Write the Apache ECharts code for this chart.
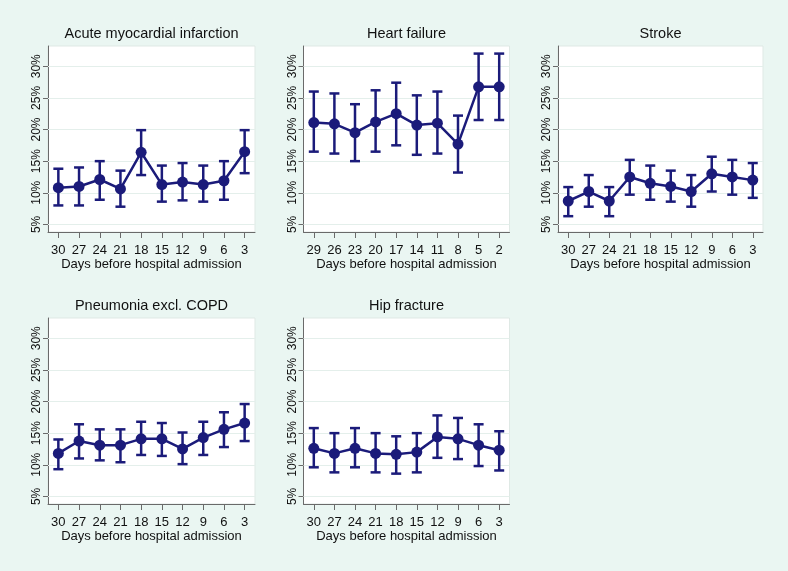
<!DOCTYPE html>
<html>
<head>
<meta charset="utf-8">
<script src="https://cdn.jsdelivr.net/npm/echarts@6/dist/echarts.min.js"></script>
<style>
html,body{margin:0;padding:0;background:#eaf6f2;}
#chart{width:788px;height:571px;}
</style>
</head>
<body>
<div id="chart"></div>
<script>
// ---- data ----
const daysA = ['30','27','24','21','18','15','12','9','6','3'];
const daysHF = ['29','26','23','20','17','14','11','8','5','2'];
const yTicks = [5, 10, 15, 20, 25, 30];

const amiEst  = [10.8, 11.0, 12.1, 10.6, 16.4, 11.3, 11.7, 11.3, 11.9, 16.5];
const amiLow  = [8.0, 8.0, 8.9, 7.8, 12.8, 8.6, 8.8, 8.6, 8.9, 13.1];
const amiHigh = [13.8, 14.0, 15.0, 13.5, 19.9, 14.3, 14.7, 14.3, 15.0, 19.9];

const hfEst  = [21.1, 20.9, 19.5, 21.2, 22.5, 20.7, 21.0, 17.7, 26.75, 26.75];
const hfLow  = [16.5, 16.2, 15.0, 16.5, 17.5, 16.0, 16.2, 13.2, 21.5, 21.5];
const hfHigh = [26.0, 25.7, 24.0, 26.2, 27.4, 25.4, 26.0, 22.2, 32.0, 32.0];

const strokeEst  = [8.7, 10.2, 8.7, 12.5, 11.5, 11.0, 10.2, 13.0, 12.5, 12.0];
const strokeLow  = [6.3, 7.8, 6.3, 9.7, 8.9, 8.6, 7.8, 10.2, 9.7, 9.2];
const strokeHigh = [10.9, 12.8, 10.9, 15.2, 14.3, 13.5, 12.8, 15.7, 15.2, 14.7];

const pneuEst  = [11.8, 13.75, 13.1, 13.1, 14.1, 14.1, 12.5, 14.3, 15.6, 16.6];
const pneuLow  = [9.3, 11.0, 10.7, 10.4, 11.55, 11.4, 10.1, 11.55, 12.8, 13.75];
const pneuHigh = [14.0, 16.4, 15.6, 15.6, 16.8, 16.6, 15.1, 16.8, 18.3, 19.6];

const hipEst  = [12.6, 11.8, 12.6, 11.8, 11.65, 12.0, 14.4, 14.1, 13.1, 12.3];
const hipLow  = [9.6, 8.8, 9.6, 8.8, 8.6, 8.8, 11.1, 10.9, 9.8, 9.1];
const hipHigh = [15.8, 15.0, 15.8, 15.0, 14.5, 15.0, 17.8, 17.4, 16.4, 15.3];

const titles = ['Acute myocardial infarction', 'Heart failure', 'Stroke', 'Pneumonia excl. COPD', 'Hip fracture'];
const xTitle = 'Days before hospital admission';

// ---- layout ----
const panels = [
  {title: titles[0], days: daysA,  est: amiEst,    low: amiLow,    high: amiHigh,    left: 48,    top: 46,  width: 207},
  {title: titles[1], days: daysHF, est: hfEst,     low: hfLow,     high: hfHigh,     left: 303.5, top: 46,  width: 206},
  {title: titles[2], days: daysA,  est: strokeEst, low: strokeLow, high: strokeHigh, left: 558,   top: 46,  width: 205},
  {title: titles[3], days: daysA,  est: pneuEst,   low: pneuLow,   high: pneuHigh,   left: 48,    top: 318, width: 207},
  {title: titles[4], days: daysA,  est: hipEst,    low: hipLow,    high: hipHigh,    left: 303.5, top: 318, width: 206}
];
const H = 186;
const navy = '#1b1b7a';
const axisCol = '#6a6a6a';
const font = '"Liberation Sans", Arial, sans-serif';

const grid = [], xAxis = [], yAxis = [], series = [], graphic = [];
panels.forEach((p, i) => {
  grid.push({left: p.left, top: p.top, width: p.width, height: H, show: true,
    backgroundColor: '#ffffff', borderColor: '#dfe9e5', borderWidth: 1, containLabel: false});
  xAxis.push({type: 'category', gridIndex: i, data: p.days, boundaryGap: true,
    axisLine: {show: true, onZero: false, lineStyle: {color: axisCol, width: 1}},
    axisTick: {show: true, alignWithLabel: true, length: 6, lineStyle: {color: axisCol}},
    axisLabel: {fontSize: 13, color: '#111', margin: 12, fontFamily: font, interval: 0},
    splitLine: {show: false},
    name: xTitle, nameLocation: 'middle', nameGap: 26,
    nameTextStyle: {fontSize: 13, color: '#111', fontFamily: font}});
  yAxis.push({type: 'value', gridIndex: i, min: 3.8, max: 33.2,
    axisLine: {show: true, lineStyle: {color: axisCol, width: 1}},
    axisTick: {show: true, length: 5, customValues: yTicks, lineStyle: {color: axisCol}},
    axisLabel: {customValues: yTicks, formatter: v => v + '%', rotate: 90, fontSize: 12,
      color: '#111', margin: 5, fontFamily: font},
    splitLine: {show: false}});
  series.push({type: 'custom', xAxisIndex: i, yAxisIndex: i, z: 2,
    data: p.low.map((lo, k) => [k, lo, p.high[k]]),
    renderItem: (params, api) => {
      const a = api.coord([api.value(0), api.value(1)]);
      const b = api.coord([api.value(0), api.value(2)]);
      const w = 5;
      const st = {stroke: navy, lineWidth: 2.5, fill: 'none'};
      return {type: 'group', children: [
        {type: 'line', shape: {x1: a[0], y1: a[1], x2: b[0], y2: b[1]}, style: st},
        {type: 'line', shape: {x1: a[0] - w, y1: a[1], x2: a[0] + w, y2: a[1]}, style: st},
        {type: 'line', shape: {x1: b[0] - w, y1: b[1], x2: b[0] + w, y2: b[1]}, style: st}
      ]};
    }});
  series.push({type: 'line', xAxisIndex: i, yAxisIndex: i, z: 3, data: p.est,
    symbol: 'circle', symbolSize: 11, itemStyle: {color: navy},
    lineStyle: {color: navy, width: 2.5},
    markLine: {silent: true, symbol: 'none', label: {show: false}, z: 1,
      lineStyle: {color: '#e4efeb', width: 1, type: 'solid'},
      data: yTicks.map(t => ({yAxis: t}))}});
  graphic.push({type: 'text', x: p.left + p.width / 2, y: p.top - 12,
    style: {text: p.title, fill: '#111', font: '14.5px ' + font, align: 'center', verticalAlign: 'middle'}});
});

const chart = echarts.init(document.getElementById('chart'), null, {renderer: 'canvas'});
chart.setOption({
  backgroundColor: '#eaf6f2',
  animation: false,
  grid, xAxis, yAxis, series, graphic
});
</script>
</body>
</html>
